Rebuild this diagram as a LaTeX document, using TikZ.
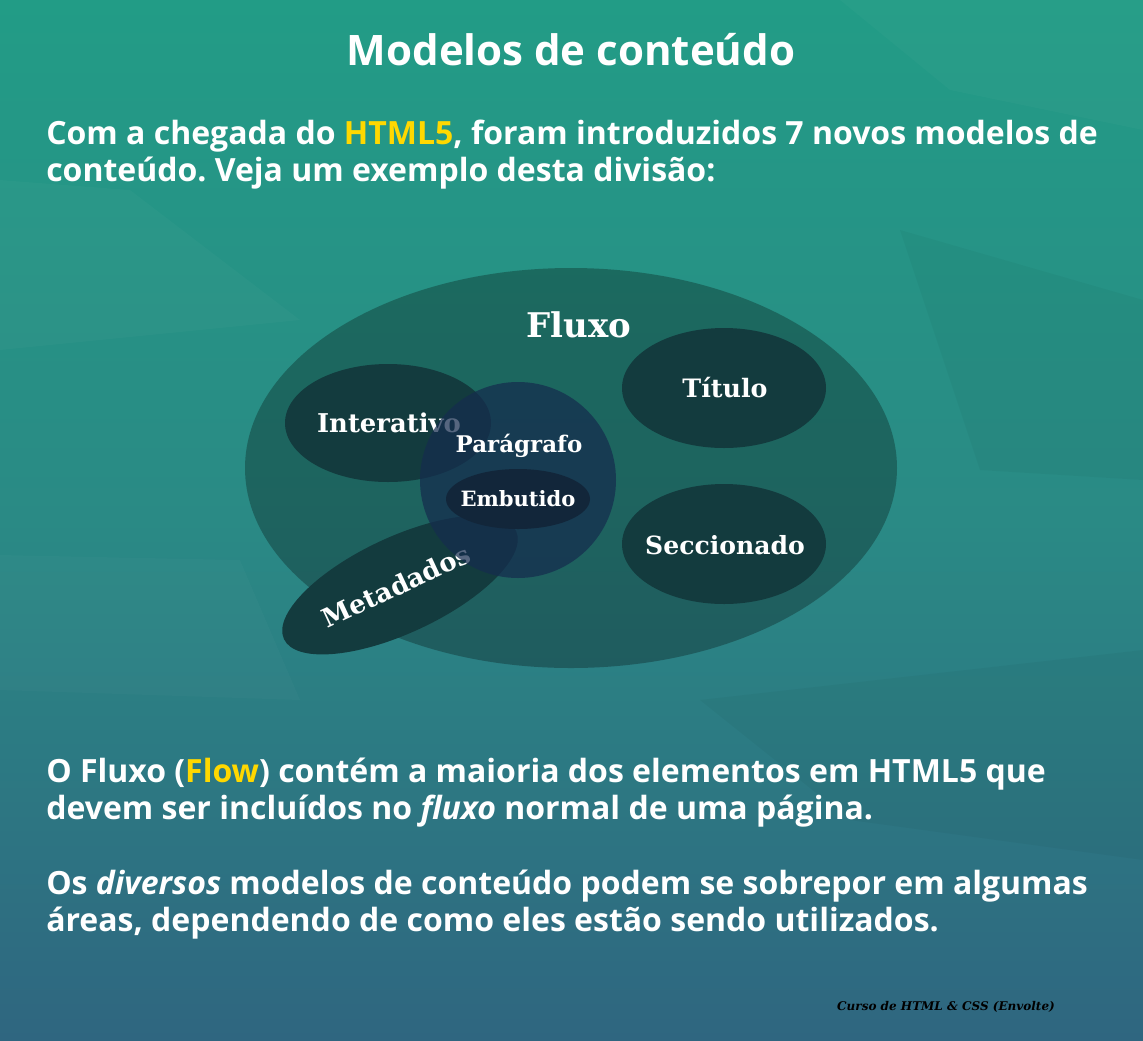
\documentclass[tikz,border=0pt]{standalone}
\usepackage{fontspec}
\setmainfont{Open Sans}
\newfontfamily\labelfont{DejaVu Serif}
\usepackage{xcolor}
\usetikzlibrary{positioning, calc}
\frenchspacing

\definecolor{bgtop}{HTML}{229C86}
\definecolor{bgmid}{HTML}{2A8A85}
\definecolor{bgbot}{HTML}{2F6680}
\definecolor{setdark}{HTML}{133B3E}
\definecolor{paranavy}{HTML}{152C4E}
\definecolor{embdark}{HTML}{12263A}
\definecolor{htmlyellow}{HTML}{FFD800}

\tikzset{
  bodytext/.style={font=\bfseries\fontsize{24}{27.75}\selectfont, text=white, align=left, inner sep=0pt},
  setlabel/.style={font=\labelfont\bfseries\fontsize{19}{21}\selectfont, text=white, inner sep=0pt},
  setfill/.style={fill=setdark}
}

\begin{document}
\begin{tikzpicture}[x=0.75pt, y=-0.75pt]
\useasboundingbox (0,0) rectangle (1143,1040);

% background
\shade[top color=bgtop, bottom color=bgbot, middle color=bgmid] (0,0) rectangle (1143,1040);
% faint facets
\fill[white, opacity=0.025] (0,180) -- (130,190) -- (300,320) -- (0,350) -- cycle;
\fill[black, opacity=0.03] (900,230) -- (1143,300) -- (1143,480) -- (980,470) -- cycle;
\fill[white, opacity=0.02] (0,555) -- (240,560) -- (300,700) -- (0,690) -- cycle;
\fill[black, opacity=0.03] (700,700) -- (1143,650) -- (1143,860) -- (850,820) -- cycle;
\fill[white, opacity=0.025] (840,0) -- (1143,0) -- (1143,130) -- (950,90) -- cycle;

% title and intro
\node[font=\bfseries\fontsize{31.5}{36}\selectfont, text=white, inner sep=0pt] (titulo) at (571,50) {Modelos de conteúdo};
\node[bodytext, anchor=base west] (intro) at (46,181)
  {Com a chegada do \textcolor{htmlyellow}{HTML5}, foram introduzidos 7 novos modelos de\\
   conteúdo. Veja um exemplo desta divisão:};

% Fluxo
\fill[black, opacity=0.28] (571,468) ellipse [x radius=326, y radius=200];
\node[setlabel, font=\labelfont\bfseries\fontsize{25.5}{28}\selectfont] (fluxo) at (579,325) {Fluxo};

% Titulo and Seccionado
\fill[setfill] (724,388) ellipse [x radius=102, y radius=60];
\node[setlabel] (tit) at (725,388) {Título};
\fill[setfill] (724,544) ellipse [x radius=102, y radius=60];
\node[setlabel, font=\labelfont\bfseries\fontsize{18.8}{21}\selectfont] (secc) at (725,545) {Seccionado};

% Interativo and Metadados (under the Paragrafo circle)
\fill[setfill] (388,423) ellipse [x radius=103, y radius=59];
\node[setlabel, font=\labelfont\bfseries\fontsize{19.4}{21}\selectfont] (inter) at (389,423) {Interativo};
\fill[setfill, rotate around={25:(400,585)}] (400,585) ellipse [x radius=128, y radius=48];
\node[setlabel, font=\labelfont\bfseries\fontsize{19.5}{21}\selectfont, rotate=25] (meta) at (396,586) {Metadados};

% Paragrafo and Embutido
\fill[paranavy, opacity=0.72] (518,480) circle [radius=98];
\node[setlabel, font=\labelfont\bfseries\fontsize{17.2}{19}\selectfont] (parag) at (519,446) {Parágrafo};
\fill[embdark] (518,499) ellipse [x radius=72, y radius=30];
\node[setlabel, font=\labelfont\bfseries\fontsize{15.8}{18}\selectfont] (embut) at (518,499) {Embutido};

% bottom text
\node[bodytext, anchor=base west] (flow) at (46,819)
  {O Fluxo (\textcolor{htmlyellow}{Flow}) contém a maioria dos elementos em HTML5 que\\
   devem ser incluídos no \textit{fluxo} normal de uma página.};
\node[bodytext, anchor=base west] (divers) at (46,931)
  {Os \textit{diversos} modelos de conteúdo podem se sobrepor em algumas\\
   áreas, dependendo de como eles estão sendo utilizados.};

% footer
\node[font=\labelfont\bfseries\itshape\fontsize{9}{11}\selectfont, text=black, inner sep=0pt] (fonte) at (946,1007) {Curso de HTML \& CSS (Envolte)};
\end{tikzpicture}
\end{document}
